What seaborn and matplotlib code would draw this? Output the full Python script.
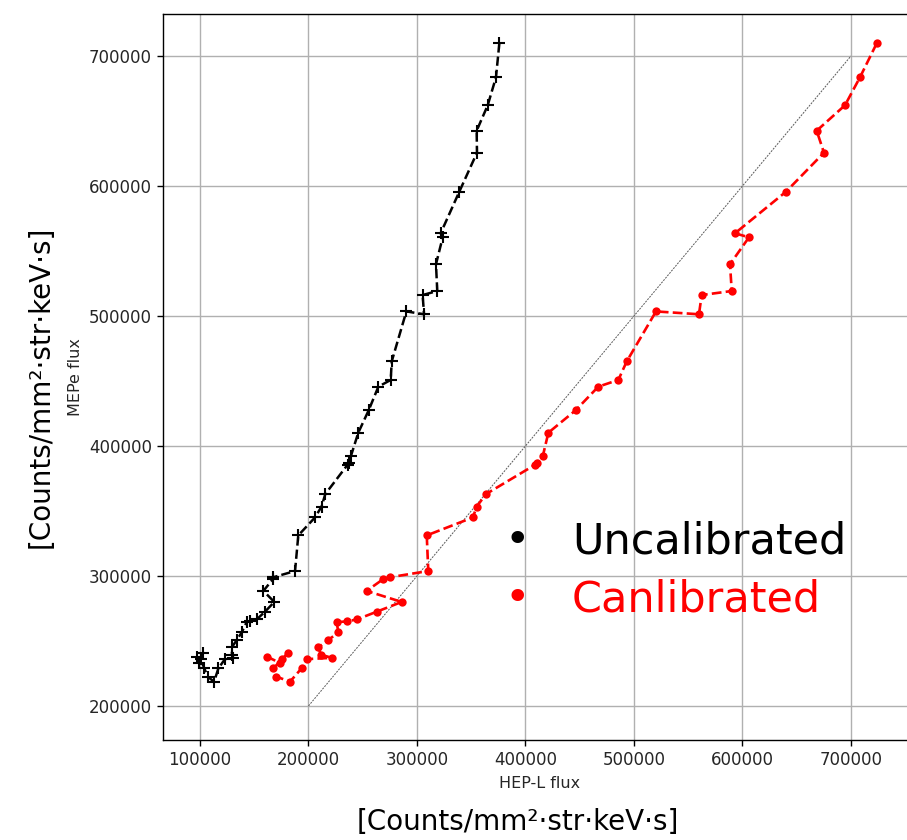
import matplotlib
matplotlib.use("Agg")
import matplotlib.pyplot as plt
import seaborn as sns
import pandas as pd

# MEPe flux (shared y values), HEP-L flux uncalibrated / calibrated (x values)
mepe_flux = [709700, 683600, 662100, 642500, 625600, 595600, 563600, 560500, 539800, 519200,
             516100, 501300, 503500, 465000, 450800, 445600, 427500, 410200, 392000, 387000,
             385500, 363000, 353300, 345000, 331200, 303800, 299000, 297300, 288500, 280000,
             272500, 266500, 265000, 264500, 256500, 250800, 245000, 239500, 237000, 236000,
             229000, 218700, 222500, 229000, 236000, 241000, 233000, 238000]
hepl_uncal = [375900, 372800, 365200, 355000, 355300, 339000, 321800, 323700, 317500, 318700,
              305200, 306500, 290200, 276700, 275800, 264400, 255500, 245900, 239000, 237000,
              236000, 215500, 212000, 206000, 190600, 187600, 167600, 167000, 158400, 168500,
              159900, 152200, 146000, 143000, 138400, 134000, 129200, 129500, 130700, 123000,
              117000, 113000, 107000, 104000, 100500, 103000, 99000, 97500]
hepl_cal = [723700, 708300, 694500, 668400, 675100, 640100, 593100, 606000, 588500, 590100,
            562400, 559900, 520300, 493300, 485600, 467100, 446300, 421100, 415900, 410300,
            408800, 363600, 355000, 351500, 309000, 310400, 275100, 268400, 253600, 285900,
            262900, 244400, 235200, 226000, 227500, 218300, 209000, 211500, 221400, 198300,
            193700, 183000, 170500, 167600, 176000, 181000, 174000, 161500]
diag_x = [200000, 700000]
diag_y = [200000, 700000]

tick_vals_x = [100000, 200000, 300000, 400000, 500000, 600000, 700000]
tick_vals_y = [200000, 300000, 400000, 500000, 600000, 700000]

unit_label = "[Counts/mm\u00b2\u00b7str\u00b7keV\u00b7s]"
legend_labels = ["Uncalibrated", "Canlibrated"]

sns.set_style("ticks")
plt.rcParams['font.family'] = ['DejaVu Sans']

W, H = 907, 840
fig = plt.figure(figsize=(W / 100, H / 100), dpi=100)
ax = fig.add_axes([163 / W, (H - 740) / H, (916 - 163) / W, (740 - 14) / H])

df_u = pd.DataFrame({"x": hepl_uncal, "y": mepe_flux})
df_c = pd.DataFrame({"x": hepl_cal, "y": mepe_flux})
df_d = pd.DataFrame({"x": diag_x, "y": diag_y})

sns.lineplot(data=df_d, x="x", y="y", sort=False, estimator=None, ax=ax,
             color="0.35", linestyle=(0, (2.0, 1.2)), linewidth=0.7)
sns.lineplot(data=df_u, x="x", y="y", sort=False, estimator=None, ax=ax,
             color="black", linestyle="--", linewidth=1.8, marker="+",
             markersize=8.5, markeredgewidth=1.5, markeredgecolor="black")
sns.lineplot(data=df_c, x="x", y="y", sort=False, estimator=None, ax=ax,
             color="red", linestyle="--", linewidth=1.9, marker="o",
             markersize=6, markeredgewidth=0, markerfacecolor="red", markeredgecolor="red")

ax.set_xlim(65900, 100000 + (916 - 200) * 921.7)
ax.set_ylim(173800, 732300)
ax.set_xticks(tick_vals_x)
ax.set_yticks(tick_vals_y)
ax.ticklabel_format(style="plain")
ax.grid(True, color="#b0b0b0", linewidth=1.0)
ax.set_axisbelow(True)
ax.tick_params(labelsize=12, length=4.5, width=1, color="black", labelcolor="#262626")
for s in ax.spines.values():
    s.set_color("black")
    s.set_linewidth(1.0)
ax.spines["right"].set_visible(False)
ax.set_xlabel("HEP-L flux", fontsize=11.5, color="#262626", labelpad=5)
ax.set_ylabel("MEPe flux", fontsize=11.5, color="#262626", labelpad=4)

# overlay annotations
fig.text(41 / W, 1 - 387 / H, unit_label, rotation=90, ha="center", va="center",
         fontsize=20, color="black", family=["DejaVu Sans"])
fig.text(518 / W, 1 - 822 / H, unit_label, ha="center", va="center",
         fontsize=20, color="black", family=["DejaVu Sans"])

fig.text(517 / W, 1 - 553 / H, "\u2022", ha="center", va="baseline", fontsize=31, color="black")
fig.text(572 / W, 1 - 554 / H, legend_labels[0], ha="left", va="baseline", fontsize=31, color="black")
fig.text(517 / W, 1 - 611 / H, "\u2022", ha="center", va="baseline", fontsize=31, color="red")
fig.text(572 / W, 1 - 612 / H, legend_labels[1], ha="left", va="baseline", fontsize=31, color="red")

fig.savefig("out.png", dpi=100)
